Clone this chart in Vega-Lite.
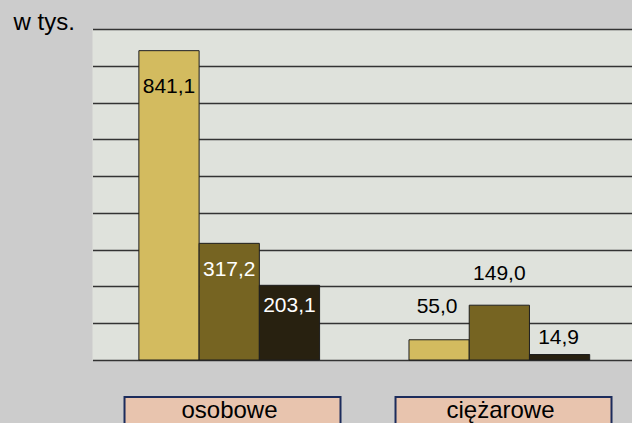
{
  "$schema": "https://vega.github.io/schema/vega-lite/v6.json",
  "background": "#cccccc",
  "autosize": {"type": "pad"},
  "padding": {"left": 12.5, "top": 10, "right": 0, "bottom": 0},
  "bounds": "flush",
  "spacing": 37,
  "datasets": {
    "dane": [
      {"kat": "osobowe", "seria": "s1", "v": 841.1},
      {"kat": "osobowe", "seria": "s2", "v": 317.2},
      {"kat": "osobowe", "seria": "s3", "v": 203.1},
      {"kat": "ciężarowe", "seria": "s1", "v": 55.0},
      {"kat": "ciężarowe", "seria": "s2", "v": 149.0},
      {"kat": "ciężarowe", "seria": "s3", "v": 14.9}
    ],
    "kategorie": [
      {"kat": "osobowe"},
      {"kat": "ciężarowe"}
    ]
  },
  "vconcat": [
    {
      "width": 540,
      "height": 331,
      "view": {"fill": "#dfe2dc", "stroke": null},
      "data": {"name": "dane"},
      "encoding": {
        "x": {"field": "kat", "type": "nominal", "axis": null,
              "scale": {"type": "band", "domain": ["osobowe", "ciężarowe"], "paddingInner": 0.331, "paddingOuter": 0.1651, "align": 0.52}},
        "xOffset": {"field": "seria", "type": "nominal", "scale": {"paddingInner": 0, "paddingOuter": 0}},
        "y": {"field": "v", "type": "quantitative",
              "scale": {"domain": [0, 900], "nice": false, "zero": true},
              "axis": {"values": [0, 100, 200, 300, 400, 500, 600, 700, 800, 900],
                       "grid": true, "gridColor": "#333333", "gridWidth": 1.5, "gridOpacity": 1,
                       "domain": false, "ticks": false, "labels": false,
                       "title": "w tys.", "titleAngle": 0, "titleAlign": "left", "titleBaseline": "alphabetic",
                       "titleX": -79.5, "titleY": 0, "titleFontSize": 24, "titleFontWeight": "normal",
                       "titleColor": "#000000", "titleFont": "Liberation Sans"}}
      },
      "layer": [
        {
          "mark": {"type": "bar", "stroke": "#1e1e1e", "strokeWidth": 1},
          "encoding": {
            "color": {"field": "seria", "type": "nominal", "legend": null,
                      "scale": {"domain": ["s1", "s2", "s3"], "range": ["#d3bb5f", "#766422", "#282110"]}}
          }
        },
        {
          "transform": [{"filter": "datum.kat === 'osobowe' && datum.seria === 's1'"}],
          "mark": {"type": "text", "fontSize": 21, "font": "Liberation Sans", "baseline": "alphabetic", "dy": 42.3, "color": "#000000"},
          "encoding": {"text": {"field": "v", "type": "quantitative", "format": ".1f"}}
        },
        {
          "transform": [{"filter": "datum.kat === 'osobowe' && datum.seria === 's2'"}],
          "mark": {"type": "text", "fontSize": 21, "font": "Liberation Sans", "baseline": "alphabetic", "dy": 33, "color": "#ffffff"},
          "encoding": {"text": {"field": "v", "type": "quantitative", "format": ".1f"}}
        },
        {
          "transform": [{"filter": "datum.kat === 'osobowe' && datum.seria === 's3'"}],
          "mark": {"type": "text", "fontSize": 21, "font": "Liberation Sans", "baseline": "alphabetic", "dy": 27, "color": "#ffffff"},
          "encoding": {"text": {"field": "v", "type": "quantitative", "format": ".1f"}}
        },
        {
          "transform": [{"filter": "datum.kat === 'ciężarowe' && datum.seria === 's1'"}],
          "mark": {"type": "text", "fontSize": 21, "font": "Liberation Sans", "baseline": "alphabetic", "dy": -27, "dx": -2, "color": "#000000"},
          "encoding": {"text": {"field": "v", "type": "quantitative", "format": ".1f"}}
        },
        {
          "transform": [{"filter": "datum.kat === 'ciężarowe' && datum.seria === 's2'"}],
          "mark": {"type": "text", "fontSize": 21, "font": "Liberation Sans", "baseline": "alphabetic", "dy": -25, "color": "#000000"},
          "encoding": {"text": {"field": "v", "type": "quantitative", "format": ".1f"}}
        },
        {
          "transform": [{"filter": "datum.kat === 'ciężarowe' && datum.seria === 's3'"}],
          "mark": {"type": "text", "fontSize": 21, "font": "Liberation Sans", "baseline": "alphabetic", "dy": -10.7, "dx": -1, "color": "#000000"},
          "encoding": {"text": {"field": "v", "type": "quantitative", "format": ".1f"}}
        }
      ]
    },
    {
      "width": 540,
      "height": 34,
      "view": {"fill": null, "stroke": null},
      "data": {"name": "kategorie"},
      "encoding": {
        "x": {"field": "kat", "type": "nominal", "axis": null,
              "scale": {"type": "band", "domain": ["osobowe", "ciężarowe"], "paddingInner": 0.203, "paddingOuter": 0.0978, "align": 0.604}}
      },
      "layer": [
        {
          "mark": {"type": "rect", "fill": "#e8c4ae", "stroke": "#1c2c5c", "strokeWidth": 2},
          "encoding": {}
        },
        {
          "mark": {"type": "text", "fontSize": 24, "font": "Liberation Sans", "baseline": "alphabetic", "dy": 4, "dx": -3, "color": "#000000"},
          "encoding": {"text": {"field": "kat", "type": "nominal"}}
        }
      ]
    }
  ],
  "config": {
    "locale": {"number": {"decimal": ",", "thousands": "\u00a0", "grouping": [3], "currency": ["", " zł"]}},
    "font": "Liberation Sans",
    "view": {"stroke": null}
  }
}
